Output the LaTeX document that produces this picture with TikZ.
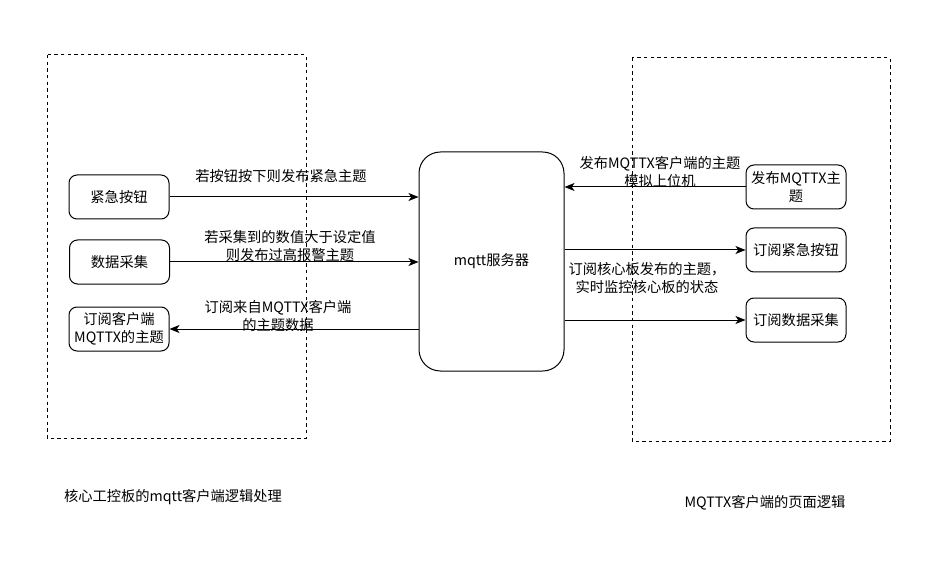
\documentclass[tikz,border=0pt]{standalone}
\usepackage{fontspec}
\setmainfont{Noto Sans CJK SC}
\usetikzlibrary{arrows.meta}
\begin{document}
\begin{tikzpicture}[x=0.75pt,y=-0.75pt,line width=0.75pt,
  every node/.style={font=\fontsize{10.7}{13.5}\selectfont,align=center},
  box/.style={draw,rounded corners=6pt,minimum width=75pt,minimum height=33pt,inner sep=1pt},
  frame/.style={draw,dash pattern=on 2.5pt off 2.5pt},
  arr/.style={-{Stealth[length=7.5pt,width=6pt,inset=2pt]}}]
\useasboundingbox (0,0) rectangle (949,570);
% the two dashed areas
\draw[frame] (47,55) rectangle (306,438);
\draw[frame] (632,58) rectangle (890,441);
% boxes
\node[box] (btn) at (119,197) {紧急按钮};
\node[box] (dat) at (119.5,262) {数据采集};
\node[box] (sub) at (119,329) {订阅客户端\\MQTTX的主题};
\node[draw,rounded corners=16pt,minimum width=108.75pt,minimum height=164.25pt] (srv) at (491.5,261.5) {mqtt服务器};
\node[box] (pub) at (796,187) {发布MQTTX主\\题};
\node[box] (sbtn) at (796,250) {订阅紧急按钮};
\node[box] (sdat) at (796,320) {订阅数据采集};
% arrows
\draw[arr] (btn.east) -- (btn.east -| srv.west);
\draw[arr] (dat.east) -- (dat.east -| srv.west);
\draw[arr] (sub.east -| srv.west) -- (sub.east);
\draw[arr] (pub.west) -- (pub.west -| srv.east);
\draw[arr] (sbtn.west -| srv.east) -- (sbtn.west);
\draw[arr] (sdat.west -| srv.east) -- (sdat.west);
% labels
\node (l1) at (281,176) {若按钮按下则发布紧急主题};
\node (l2) at (290,246) {若采集到的数值大于设定值\\则发布过高报警主题};
\node (l3) at (278,316) {订阅来自MQTTX客户端\\的主题数据};
\node (l4) at (660,172) {发布MQTTX客户端的主题\\模拟上位机};
\node (l5) at (647,278) {订阅核心板发布的主题，\\实时监控核心板的状态};
\node (t1) at (173,497) {核心工控板的mqtt客户端逻辑处理};
\node (t2) at (765,503) {MQTTX客户端的页面逻辑};
\end{tikzpicture}
\end{document}
